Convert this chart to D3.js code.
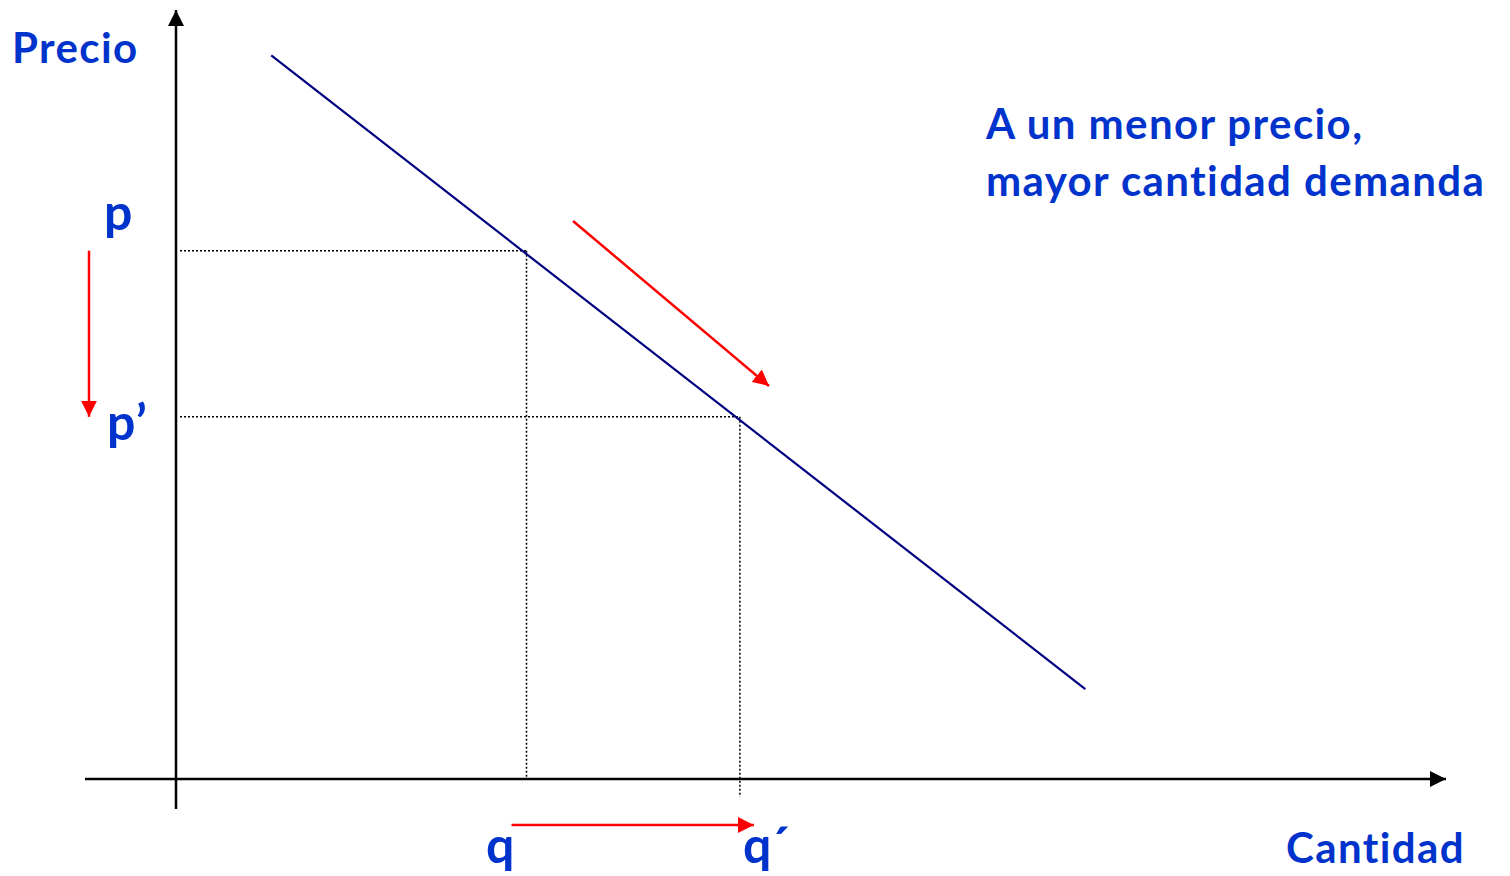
<!DOCTYPE html>
<html>
<head>
<meta charset="utf-8">
<script src="https://cdn.jsdelivr.net/npm/d3@7"></script>
<style>
  body { margin: 0; background: #fff; }
  svg text { font-family: Lato, "Open Sans", sans-serif; font-weight: 700; fill: #0033cc;
             font-variant-ligatures: none; letter-spacing: 1.4px; }
</style>
</head>
<body>
<svg id="chart" width="1510" height="876"></svg>
<script>
// demand curve endpoints (quantity, price)
const demandQ = [7.5, 71.6];
const demandP = [94.1, 11.7];
// the two price / quantity levels
const levelP = [68.7, 47.1];
const levelQ = [27.6, 44.4];
const priceLabels = ['p', 'p’'];
const qtyLabels = ['q', 'q´'];

const svg = d3.select('#chart');

const x = d3.scaleLinear().domain([0, 100]).range([176, 1446]);
const y = d3.scaleLinear().domain([0, 100]).range([779, 10]);

const defs = svg.append('defs');
function marker(id, color, size) {
  defs.append('marker')
    .attr('id', id)
    .attr('viewBox', '0 0 10 10')
    .attr('refX', 10).attr('refY', 5)
    .attr('markerWidth', size).attr('markerHeight', size)
    .attr('markerUnits', 'userSpaceOnUse')
    .attr('orient', 'auto')
    .append('path')
    .attr('d', 'M0,0 L10,5 L0,10 Z')
    .attr('fill', color);
}
marker('arrBlack', '#000', 16);
marker('arrRed', '#ff0000', 16);

// axes
svg.append('line')
  .attr('x1', x(0)).attr('x2', x(0))
  .attr('y1', y(0) + 30).attr('y2', y(100))
  .attr('stroke', '#000').attr('stroke-width', 2.5)
  .attr('marker-end', 'url(#arrBlack)');
svg.append('line')
  .attr('x1', x(0) - 91).attr('x2', x(100))
  .attr('y1', y(0)).attr('y2', y(0))
  .attr('stroke', '#000').attr('stroke-width', 2.5)
  .attr('marker-end', 'url(#arrBlack)');

// dotted guides
const guides = svg.append('g')
  .attr('stroke', '#000').attr('stroke-width', 1.5)
  .attr('stroke-dasharray', '2,2').attr('fill', 'none');
levelP.forEach((p, i) => {
  guides.append('line')
    .attr('x1', x(0) + 4).attr('x2', x(levelQ[i]))
    .attr('y1', y(p)).attr('y2', y(p));
  guides.append('line')
    .attr('x1', x(levelQ[i])).attr('x2', x(levelQ[i]))
    .attr('y1', y(p)).attr('y2', y(0) + (i === 1 ? 18 : 0));
});

// demand curve
const pts = demandQ.map((q, i) => ({ q: q, p: demandP[i] }));
svg.append('path')
  .datum(pts)
  .attr('fill', 'none')
  .attr('stroke', '#000080')
  .attr('stroke-width', 2.2)
  .attr('d', d3.line().x(d => x(d.q)).y(d => y(d.p)));

// red arrows
const red = svg.append('g')
  .attr('stroke', '#ff0000').attr('stroke-width', 2.5)
  .attr('marker-end', 'url(#arrRed)');
red.append('line')
  .attr('x1', x(0) - 87).attr('x2', x(0) - 87)
  .attr('y1', y(levelP[0])).attr('y2', y(levelP[1]));
red.append('line')
  .attr('x1', 573).attr('y1', 221)
  .attr('x2', 769).attr('y2', 386);
red.append('line')
  .attr('x1', x(levelQ[0]) - 15).attr('x2', x(levelQ[1]) + 14)
  .attr('y1', 825).attr('y2', 825);

// labels
svg.append('text').attr('x', 12).attr('y', 63)
  .attr('font-size', 42).text('Precio');
svg.append('text').attr('x', 1286).attr('y', 863)
  .attr('font-size', 42).text('Cantidad');

svg.append('text').attr('x', 104).attr('y', 230)
  .attr('font-size', 50).text(priceLabels[0]);
svg.append('text').attr('x', 107).attr('y', 440)
  .attr('font-size', 50).text(priceLabels[1]);
svg.append('text').attr('x', 486).attr('y', 863)
  .attr('font-size', 50).text(qtyLabels[0]);
svg.append('text').attr('x', 743).attr('y', 863)
  .attr('font-size', 50).style('letter-spacing', '-2px').text(qtyLabels[1]);

const note = svg.append('text').attr('font-size', 42);
note.append('tspan').attr('x', 986).attr('y', 139).text('A un menor precio,');
note.append('tspan').attr('x', 986).attr('y', 196).text('mayor cantidad demanda');
</script>
</body>
</html>
